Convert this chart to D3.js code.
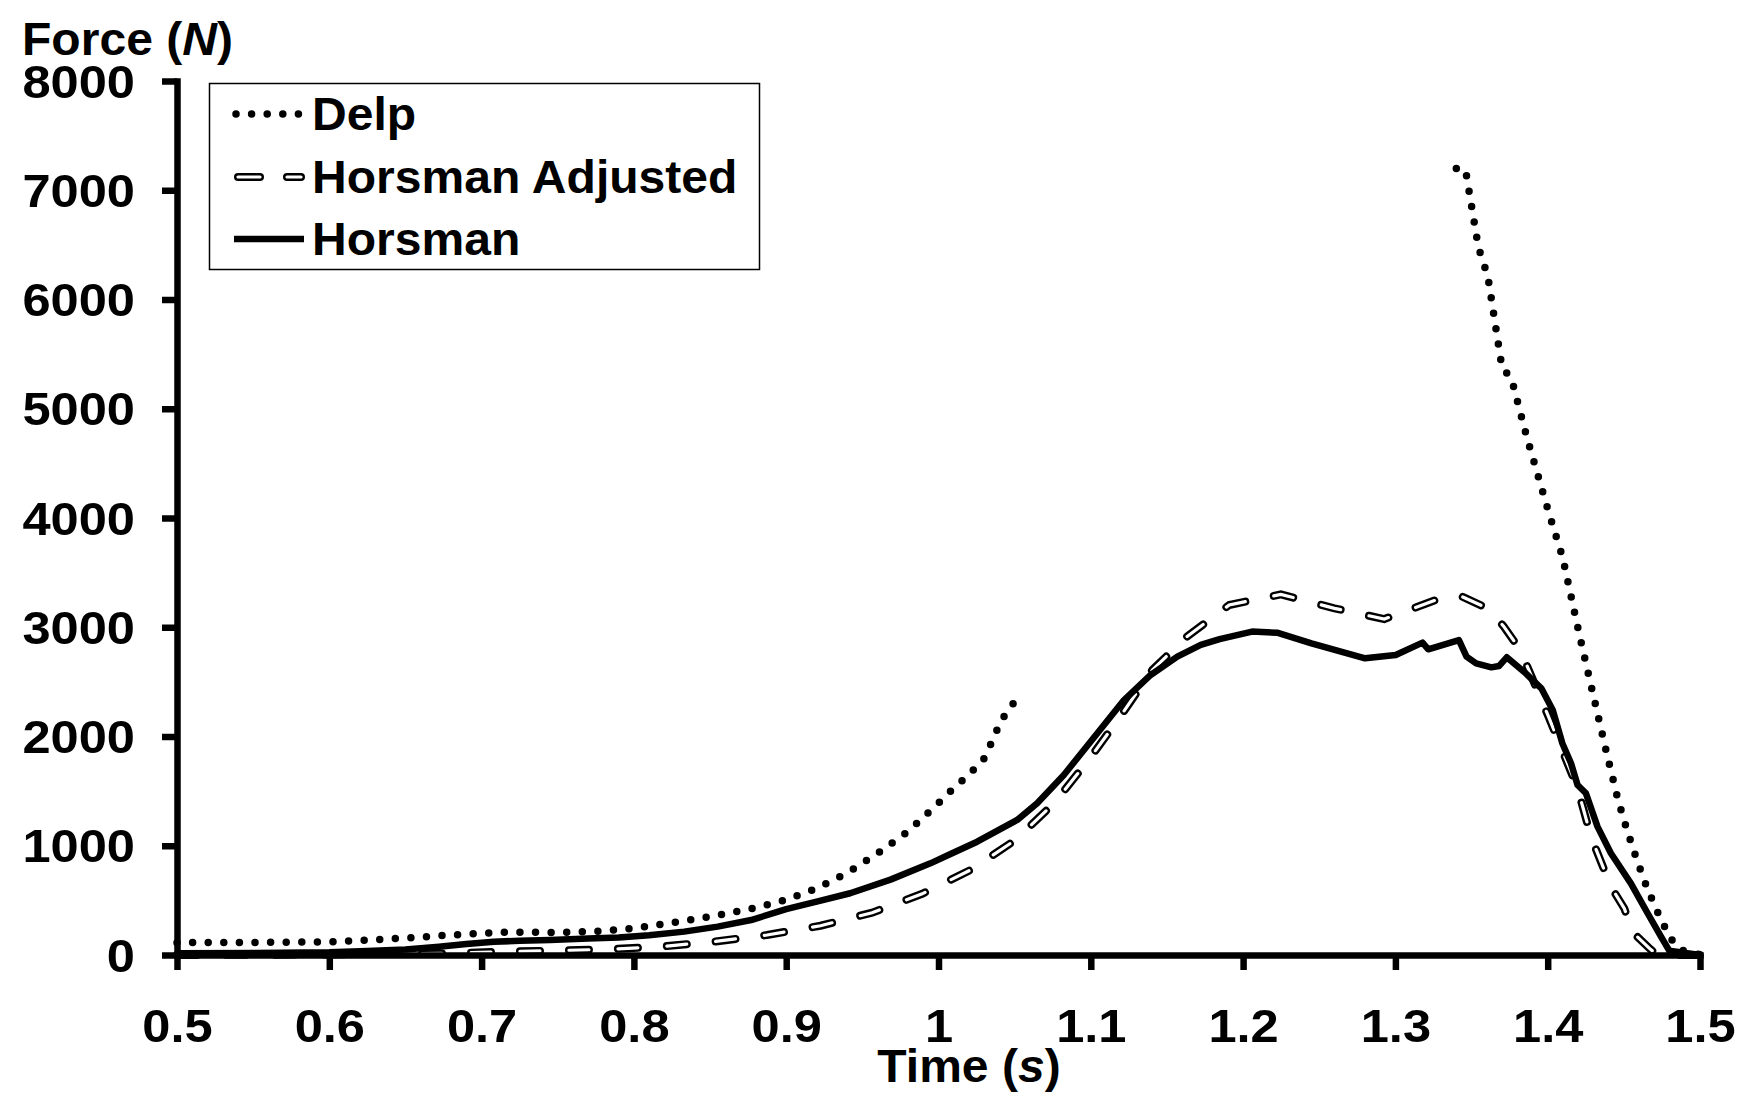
<!DOCTYPE html>
<html>
<head>
<meta charset="utf-8">
<script src="https://cdn.jsdelivr.net/npm/d3@7"></script>
<style>
  html, body { margin: 0; padding: 0; background: #fff; }
  svg { display: block; }
  text { font-family: "Liberation Sans", Arial, Helvetica, sans-serif; font-weight: bold; fill: #000; }
</style>
</head>
<body>
<svg id="chart" width="1745" height="1101"></svg>
<script>
// ---------------- data ----------------
const xTickValues = [0.5, 0.6, 0.7, 0.8, 0.9, 1.0, 1.1, 1.2, 1.3, 1.4, 1.5];
const xTickLabels = ["0.5", "0.6", "0.7", "0.8", "0.9", "1", "1.1", "1.2", "1.3", "1.4", "1.5"];
const yTickValues = [0, 1000, 2000, 3000, 4000, 5000, 6000, 7000, 8000];
const yTickLabels = ["0", "1000", "2000", "3000", "4000", "5000", "6000", "7000", "8000"];

const seriesNames = ["Delp", "Horsman Adjusted", "Horsman"];

// Delp (null marks the gap between the two recorded parts)
const delpTime = [0.50, 0.55, 0.60, 0.625, 0.65, 0.67, 0.70, 0.72, 0.75, 0.78, 0.80, 0.82, 0.84, 0.86, 0.88, 0.90, 0.92, 0.94, 0.96, 0.98, 1.00, 1.01, 1.02, 1.03, 1.035, 1.04, 1.045, 1.049,
  null,
  1.340, 1.346, 1.3545, 1.3607, 1.3701, 1.376, 1.3863, 1.4006, 1.4098, 1.4205, 1.4297, 1.4389, 1.4461, 1.452, 1.4584, 1.4654, 1.4735, 1.4781, 1.4831, 1.490, 1.50];
const delpForce = [113, 115, 120, 137, 155, 174, 200, 210, 205, 220, 245, 285, 328, 376, 433, 505, 610, 750, 930, 1130, 1390, 1527, 1650, 1800, 1950, 2110, 2230, 2300,
  null,
  7200, 7190, 6477, 6212, 5367, 5287, 4739, 4055, 3640, 2950, 2392, 1837, 1425, 1147, 876, 607, 351, 222, 101, 30, 5];

// Horsman Adjusted
const adjTime = [0.50, 0.60, 0.68, 0.713, 0.748, 0.7823, 0.8173, 0.8524, 0.8874, 0.9225, 0.9564, 0.9893, 1.021, 1.0506, 1.0758, 1.0977, 1.1185, 1.1404, 1.163, 1.1909, 1.2248, 1.26, 1.2927, 1.3266, 1.343, 1.3606, 1.371, 1.382, 1.40, 1.4192, 1.4236, 1.4284, 1.4345, 1.4415, 1.4503, 1.4554, 1.4675, 1.472, 1.50];
const adjForce = [0, 5, 15, 30, 40, 52, 76, 122, 183, 268, 387, 560, 778, 1053, 1389, 1769, 2166, 2609, 2913, 3204, 3301, 3173, 3075, 3249, 3285, 3173, 3010, 2792, 2200, 1541, 1327, 1083, 870, 625, 427, 213, 52, 0, 0];

// Horsman
const horTime = [0.50, 0.55, 0.60, 0.625, 0.65, 0.672, 0.69, 0.708, 0.725, 0.745, 0.77, 0.79, 0.81, 0.833, 0.855, 0.877, 0.90, 0.92, 0.942, 0.9685, 0.9947, 1.0079, 1.0254, 1.0517, 1.0648, 1.0823, 1.1043, 1.1218, 1.1393, 1.1568, 1.1722, 1.1846, 1.2059, 1.2223, 1.2449, 1.2801, 1.3002, 1.3178, 1.3216, 1.3417, 1.3467, 1.353, 1.363, 1.368, 1.3731, 1.3856, 1.3958, 1.4033, 1.4096, 1.4153, 1.4196, 1.4251, 1.4327, 1.4415, 1.4546, 1.4656, 1.4744, 1.4798, 1.50];
const horForce = [15, 18, 25, 37, 50, 76, 100, 122, 130, 137, 150, 160, 180, 214, 260, 320, 420, 488, 565, 690, 839, 924, 1037, 1236, 1389, 1648, 2029, 2334, 2563, 2731, 2838, 2892, 2960, 2950, 2853, 2716, 2746, 2859, 2798, 2883, 2731, 2670, 2633, 2645, 2725, 2578, 2441, 2243, 1938, 1755, 1556, 1480, 1175, 931, 656, 382, 168, 40, 0];

// ---------------- drawing ----------------
const svg = d3.select("#chart");
const FONT = 46;
const DIGIT_STRETCH = 1.1;   // tick labels are drawn a little wider
const WORD_STRETCH = 1.045;  // titles and legend entries

const x = d3.scaleLinear().domain([0.5, 1.5]).range([177, 1700]);
const y = d3.scaleLinear().domain([0, 8000]).range([955, 81]);

const zip = (ts, fs) => ts.map((t, i) => ({ t: t, f: fs[i] }));
const line = d3.line()
  .defined(d => d.t !== null && d.f !== null)
  .x(d => x(d.t))
  .y(d => y(d.f));

// Delp dotted
svg.append("path")
  .attr("d", line(zip(delpTime, delpForce)))
  .attr("fill", "none").attr("stroke", "#000")
  .attr("stroke-width", 7.5)
  .attr("stroke-linecap", "round")
  .attr("stroke-dasharray", "0 15.6");

// Horsman Adjusted: outlined dashes
const adjPath = line(zip(adjTime, adjForce));
svg.append("path")
  .attr("d", adjPath)
  .attr("fill", "none").attr("stroke", "#000")
  .attr("stroke-width", 8)
  .attr("stroke-linecap", "round")
  .attr("stroke-dasharray", "20 29");
svg.append("path")
  .attr("d", adjPath)
  .attr("fill", "none").attr("stroke", "#fff")
  .attr("stroke-width", 3.2)
  .attr("stroke-linecap", "round")
  .attr("stroke-dasharray", "20 29");

// Horsman solid
svg.append("path")
  .attr("d", line(zip(horTime, horForce)))
  .attr("fill", "none").attr("stroke", "#000")
  .attr("stroke-width", 6.5)
  .attr("stroke-linejoin", "round");

// Axes
const xAxis = d3.axisBottom(x)
  .tickValues(xTickValues)
  .tickFormat((d, i) => xTickLabels[i])
  .tickSize(15).tickSizeOuter(0);
const gx = svg.append("g").attr("transform", `translate(0,${y(0)})`).call(xAxis);

const yAxis = d3.axisLeft(y)
  .tickValues(yTickValues)
  .tickFormat((d, i) => yTickLabels[i])
  .tickSize(15).tickSizeOuter(0);
const gy = svg.append("g").attr("transform", `translate(${x(0.5)},0)`).call(yAxis);

[gx, gy].forEach(g => {
  g.select(".domain").attr("stroke", "#000").attr("stroke-width", 6.5).attr("stroke-linecap", "square");
  g.selectAll(".tick line").attr("stroke", "#000").attr("stroke-width", 6.5);
  g.selectAll(".tick text")
    .attr("font-size", FONT)
    .attr("font-family", "Liberation Sans, Arial, sans-serif")
    .attr("font-weight", "bold")
    .attr("fill", "#000")
    .attr("x", 0).attr("y", 0).attr("dy", null);
});
gx.selectAll(".tick text").attr("transform", `translate(0,87) scale(${DIGIT_STRETCH},1)`);
gy.selectAll(".tick text").attr("dy", "0.35em").attr("transform", `translate(-42,0) scale(${DIGIT_STRETCH},1)`);

// Axis titles
const yTitle = svg.append("text").attr("transform", `translate(22,55) scale(${WORD_STRETCH},1)`).attr("font-size", FONT);
yTitle.append("tspan").text("Force (");
yTitle.append("tspan").attr("font-style", "italic").text("N");
yTitle.append("tspan").text(")");

const xTitle = svg.append("text").attr("transform", `translate(969,1082) scale(${WORD_STRETCH},1)`).attr("font-size", FONT).attr("text-anchor", "middle");
xTitle.append("tspan").text("Time (");
xTitle.append("tspan").attr("font-style", "italic").text("s");
xTitle.append("tspan").text(")");

// Legend
const legend = svg.append("g");
legend.append("rect")
  .attr("x", 209.5).attr("y", 83.5).attr("width", 550).attr("height", 186)
  .attr("fill", "#fff").attr("stroke", "#000").attr("stroke-width", 1.5);

const legendBaselines = [130, 193, 255];
const lx1 = 237, lx2 = 301;
seriesNames.forEach((name, i) => {
  const by = legendBaselines[i];
  const sy = by - 16;
  if (i === 0) {
    legend.append("line").attr("x1", lx1 - 1).attr("x2", lx2).attr("y1", sy).attr("y2", sy)
      .attr("stroke", "#000").attr("stroke-width", 7.5).attr("stroke-linecap", "round").attr("stroke-dasharray", "0 15.6");
  } else if (i === 1) {
    legend.append("line").attr("x1", lx1 + 1).attr("x2", lx2).attr("y1", sy).attr("y2", sy)
      .attr("stroke", "#000").attr("stroke-width", 8).attr("stroke-linecap", "round").attr("stroke-dasharray", "22 27");
    legend.append("line").attr("x1", lx1 + 1).attr("x2", lx2).attr("y1", sy).attr("y2", sy)
      .attr("stroke", "#fff").attr("stroke-width", 3.2).attr("stroke-linecap", "round").attr("stroke-dasharray", "22 27");
  } else {
    legend.append("line").attr("x1", lx1 - 3).attr("x2", lx2 + 3).attr("y1", sy).attr("y2", sy)
      .attr("stroke", "#000").attr("stroke-width", 6.5);
  }
  legend.append("text").attr("transform", `translate(312,${by}) scale(${WORD_STRETCH},1)`).attr("font-size", FONT).text(name);
});
</script>
</body>
</html>
